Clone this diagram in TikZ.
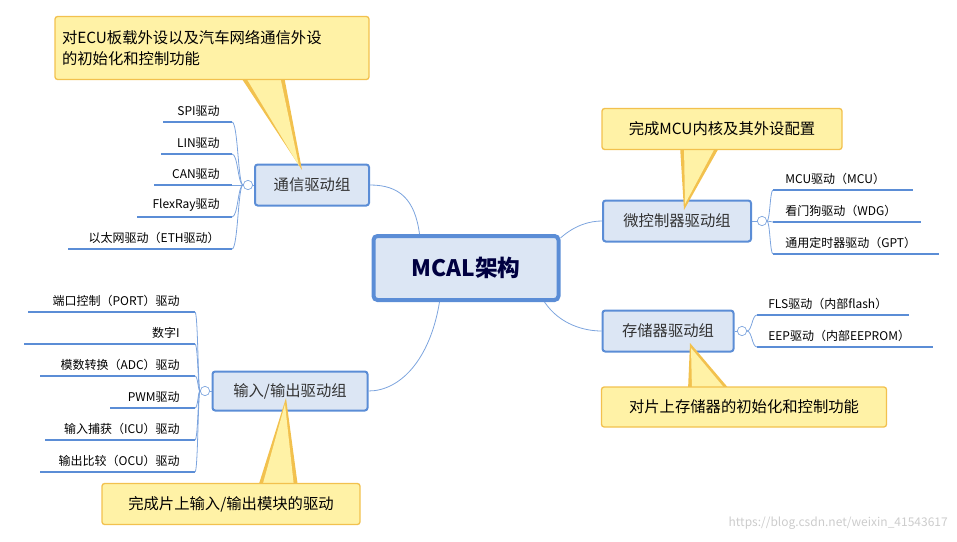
\documentclass[tikz,border=0pt]{standalone}
\usepackage{fontspec}
\setmainfont{Noto Sans CJK SC}
\begin{document}
\begin{tikzpicture}[x=0.75pt,y=-0.75pt,
  grp/.style={draw=blue!50!cyan!60!black!70,line width=1.5pt,fill=gfill,rounded corners=2pt,font=\fontsize{11.5}{13}\selectfont,text=black!80,inner sep=0pt},
  call/.style={draw=cbord,line width=1pt,fill=cfill,rounded corners=2pt,font=\fontsize{11.5}{16}\selectfont,inner sep=0pt},
  leaf/.style={font=\fontsize{9}{10}\selectfont,inner sep=0pt},
  uline/.style={draw=lblue,line width=1.8pt},
  con/.style={draw=lblue!80,line width=0.6pt},
  knob/.style={circle,draw=lblue!80,fill=white,line width=0.5pt,minimum size=7pt,inner sep=0pt}]
\definecolor{lblue}{HTML}{5B8DD6}
\definecolor{gfill}{HTML}{DCE6F4}
\definecolor{cfill}{HTML}{FFF2A6}
\definecolor{cbord}{HTML}{F2C14E}
\tikzset{grp/.append style={draw=lblue}}
\useasboundingbox (0,0) rectangle (957,542);
% center
\node[draw=lblue,line width=3pt,fill=gfill,rounded corners=3pt,minimum width=185pt*0.75,minimum height=64pt*0.75,font=\fontsize{17}{20}\selectfont\bfseries,text=black!75!blue] (c) at (466,268) {MCAL架构};
% groups
\node[grp,minimum width=114*0.75pt,minimum height=41*0.75pt] (g1) at (312,185) {通信驱动组};
\node[grp,minimum width=155*0.75pt,minimum height=39*0.75pt] (g2) at (290,391) {输入/输出驱动组};
\node[grp,minimum width=148*0.75pt,minimum height=41*0.75pt] (g3) at (677,221) {微控制器驱动组};
\node[grp,minimum width=131*0.75pt,minimum height=41*0.75pt] (g4) at (668,331) {存储器驱动组};
% main connectors
\draw[con] (c.north west)++(48,0) coordinate (c1) .. controls (415,200) and (400,185) .. (g1.east);
\draw[con] (c.south west)++(68,0) coordinate (c2) .. controls (430,360) and (400,391) .. (g2.east);
\draw[con] (c.north east)++(0,4) coordinate (c3) .. controls (575,225) and (590,221) .. (g3.west);
\draw[con] (c.south east)++(-16,0) coordinate (c4) .. controls (560,325) and (585,331) .. (g4.west);
% knobs
\node[knob] (k1) at (248,185) {};
\node[knob] (k2) at (205,391) {};
\node[knob] (k3) at (762,221) {};
\node[knob] (k4) at (742,331) {};
\draw[con] (k1) -- (g1.west);
\draw[con] (k2) -- (g2.west);
\draw[con] (k3) -- (g3.east);
\draw[con] (k4) -- (g4.east);
% left leaves (group 1)
\foreach \n/\y/\l/\t in {a/122/163/SPI驱动,b/154/161/LIN驱动,c/185/154/CAN驱动,d/217/137/FlexRay驱动,e/249/68/以太网驱动（ETH驱动）}{
  \coordinate (L1\n) at (\l,\y); \coordinate (R1\n) at (232,\y);
  \draw[uline] (L1\n) -- (R1\n);
  \node[leaf,anchor=south east] (t1\n) at (220,\y-5) {\t};
  \draw[con] (k1.west) .. controls (238,185) and (238,\y) .. (R1\n);
}
\foreach \n/\y/\l/\t in {a/312/28/端口控制（PORT）驱动,b/344/24/数字I/O引脚（DIO）驱动,c/376/40/模数转换（ADC）驱动,d/408/110/PWM驱动,e/440/45/输入捕获（ICU）驱动,f/472/40/输出比较（OCU）驱动}{
  \coordinate (L2\n) at (\l,\y); \coordinate (R2\n) at (195,\y);
  \draw[uline] (L2\n) -- (R2\n);
  \node[leaf,anchor=south east] (t2\n) at (180,\y-5) {\t};
  \draw[con] (k2.west) .. controls (198,391) and (198,\y) .. (R2\n);
}
\foreach \n/\y/\r/\t in {a/190/913/MCU驱动（MCU）,b/222/921/看门狗驱动（WDG）,c/254/939/通用定时器驱动（GPT）}{
  \coordinate (L3\n) at (773,\y); \coordinate (R3\n) at (\r,\y);
  \draw[uline] (L3\n) -- (R3\n);
  \node[leaf,anchor=south west] (t3\n) at (785,\y-5) {\t};
  \draw[con] (k3.east) .. controls (770,221) and (770,\y) .. (L3\n);
}
\foreach \n/\y/\r/\t in {a/315/909/FLS驱动（内部flash）,b/347/933/EEP驱动（内部EEPROM）}{
  \coordinate (L4\n) at (757,\y); \coordinate (R4\n) at (\r,\y);
  \draw[uline] (L4\n) -- (R4\n);
  \node[leaf,anchor=south west] (t4\n) at (768,\y-5) {\t};
  \draw[con] (k4.east) .. controls (752,331) and (752,\y) .. (L4\n);
}
% callouts
\coordinate (p1) at (302,170);
\fill[cbord] (240,76) -- (p1) -- (284,76) -- cycle;
\fill[cfill] (245,76) -- (299,166) -- (280,76) -- cycle;
\node[call,minimum width=314*0.75pt,minimum height=63*0.75pt,align=left,text width=300*0.75pt] (n1) at (212,48) {对ECU板载外设以及汽车网络通信外设\\的初始化和控制功能};
\coordinate (p2) at (684,210);
\fill[cbord] (680,146) -- (p2) -- (720,146) -- cycle;
\fill[cfill] (684,146) -- (685,204) -- (716,146) -- cycle;
\node[call,minimum width=240*0.75pt,minimum height=41*0.75pt] (n2) at (722,129) {完成MCU内核及其外设配置};
\coordinate (p3) at (690,343);
\fill[cbord] (688,390) -- (p3) -- (730,390) -- cycle;
\fill[cfill] (692,390) -- (691,348) -- (726,390) -- cycle;
\node[call,minimum width=285*0.75pt,minimum height=40*0.75pt] (n3) at (744,407) {对片上存储器的初始化和控制功能};
\coordinate (p4) at (286,398);
\fill[cbord] (258,487) -- (p4) -- (298,487) -- cycle;
\fill[cfill] (262,487) -- (285,404) -- (294,487) -- cycle;
\node[call,minimum width=258*0.75pt,minimum height=41*0.75pt] (n4) at (231,504) {完成片上输入/输出模块的驱动};
\node[font=\fontsize{9}{10}\selectfont,text=black!20,anchor=south east,inner sep=0pt] (wm) at (948,530) {https://blog.csdn.net/weixin\_41543617};
\end{tikzpicture}
\end{document}
